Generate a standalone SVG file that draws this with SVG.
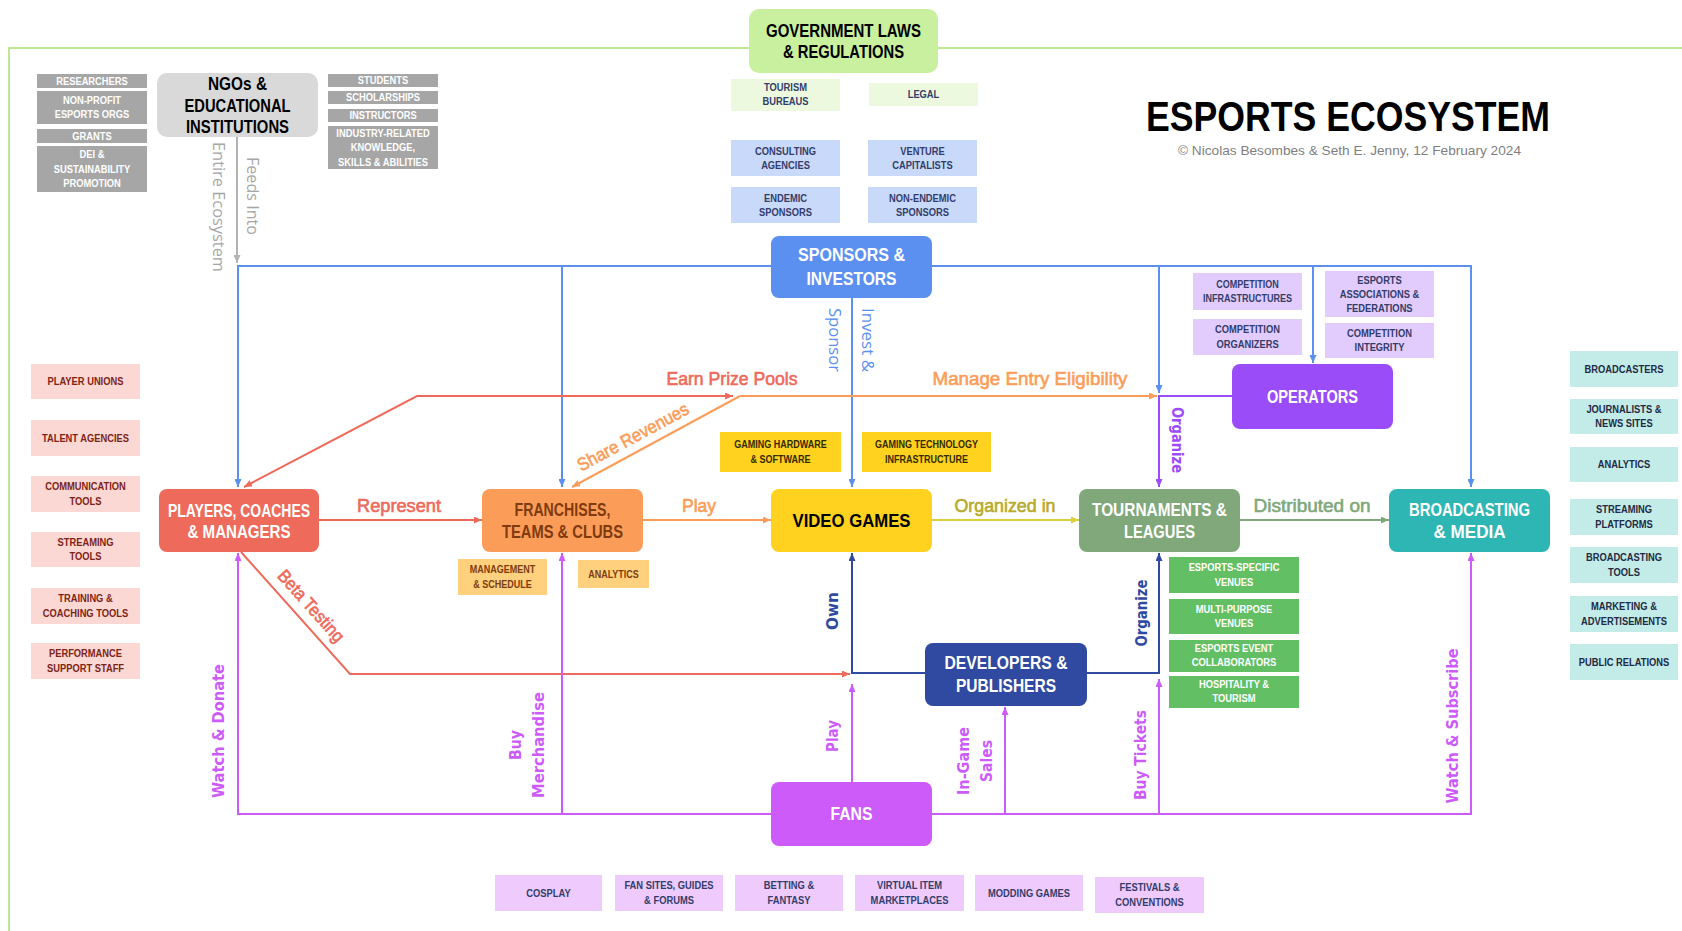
<svg xmlns="http://www.w3.org/2000/svg" width="1682" height="931" viewBox="0 0 1682 931">
<style>
.mt{font-family:'Liberation Sans',Arial,sans-serif;font-weight:bold;font-size:17.5px;text-anchor:middle}
.st{font-family:'Liberation Sans',Arial,sans-serif;font-weight:bold;font-size:11px;text-anchor:middle}
.lb{font-family:'Liberation Sans',Arial,sans-serif;font-size:18px;text-anchor:middle;stroke-width:0.6px;paint-order:stroke}
.vl{font-family:'Open Sans','DejaVu Sans',sans-serif;font-size:16px;text-anchor:middle}
.vb{font-family:'DejaVu Sans',sans-serif;font-size:15px;font-weight:bold;text-anchor:middle}
.ln{fill:none;stroke-width:2}
.navy{fill:#333d6b}
</style>
<defs>
<marker id="aBlue" viewBox="0 0 8 7" refX="8" refY="3.5" markerWidth="8" markerHeight="7" markerUnits="userSpaceOnUse" orient="auto-start-reverse"><path d="M0,0 L8,3.5 L0,7 z" fill="#5b8ff0"/></marker>
<marker id="aGray" viewBox="0 0 8 7" refX="8" refY="3.5" markerWidth="8" markerHeight="7" markerUnits="userSpaceOnUse" orient="auto-start-reverse"><path d="M0,0 L8,3.5 L0,7 z" fill="#b3b3b3"/></marker>
<marker id="aRed" viewBox="0 0 8 7" refX="8" refY="3.5" markerWidth="8" markerHeight="7" markerUnits="userSpaceOnUse" orient="auto-start-reverse"><path d="M0,0 L8,3.5 L0,7 z" fill="#ee6a5b"/></marker>
<marker id="aOrg" viewBox="0 0 8 7" refX="8" refY="3.5" markerWidth="8" markerHeight="7" markerUnits="userSpaceOnUse" orient="auto-start-reverse"><path d="M0,0 L8,3.5 L0,7 z" fill="#fb9d59"/></marker>
<marker id="aYel" viewBox="0 0 8 7" refX="8" refY="3.5" markerWidth="8" markerHeight="7" markerUnits="userSpaceOnUse" orient="auto-start-reverse"><path d="M0,0 L8,3.5 L0,7 z" fill="#dccf3a"/></marker>
<marker id="aGrn" viewBox="0 0 8 7" refX="8" refY="3.5" markerWidth="8" markerHeight="7" markerUnits="userSpaceOnUse" orient="auto-start-reverse"><path d="M0,0 L8,3.5 L0,7 z" fill="#80a87a"/></marker>
<marker id="aPur" viewBox="0 0 8 7" refX="8" refY="3.5" markerWidth="8" markerHeight="7" markerUnits="userSpaceOnUse" orient="auto-start-reverse"><path d="M0,0 L8,3.5 L0,7 z" fill="#cc5bfa"/></marker>
<marker id="aVio" viewBox="0 0 8 7" refX="8" refY="3.5" markerWidth="8" markerHeight="7" markerUnits="userSpaceOnUse" orient="auto-start-reverse"><path d="M0,0 L8,3.5 L0,7 z" fill="#9a4cf9"/></marker>
<marker id="aNav" viewBox="0 0 8 7" refX="8" refY="3.5" markerWidth="8" markerHeight="7" markerUnits="userSpaceOnUse" orient="auto-start-reverse"><path d="M0,0 L8,3.5 L0,7 z" fill="#2f4aa0"/></marker>
</defs>
<rect width="1682" height="931" fill="#ffffff"/>

<!-- frame -->
<path d="M9,931 L9,48 L1682,48" fill="none" stroke="#a9df73" stroke-width="1.5"/>

<!-- title -->
<g id="title">
<text x="1146" y="131" font-family="'Liberation Sans',Arial,sans-serif" font-weight="bold" font-size="42" textLength="404" lengthAdjust="spacingAndGlyphs" fill="#000">ESPORTS ECOSYSTEM</text>
<text x="1178" y="155" font-family="'Liberation Sans',Arial,sans-serif" font-size="13" textLength="343" lengthAdjust="spacingAndGlyphs" fill="#7f7f7f">© Nicolas Besombes &amp; Seth E. Jenny, 12 February 2024</text>
</g>

<!-- connectors -->
<g id="connectors">
<path class="ln" stroke="#b3b3b3" d="M237,137 L237,263" marker-end="url(#aGray)"/>
<path class="ln" stroke="#5b8ff0" d="M771,266 L238,266 L238,487" marker-end="url(#aBlue)"/>
<path class="ln" stroke="#5b8ff0" d="M562,266 L562,487" marker-end="url(#aBlue)"/>
<path class="ln" stroke="#5b8ff0" d="M932,266 L1471,266 L1471,487" marker-end="url(#aBlue)"/>
<path class="ln" stroke="#5b8ff0" d="M1159,266 L1159,393" marker-end="url(#aBlue)"/>
<path class="ln" stroke="#5b8ff0" d="M1313,266 L1313,363" marker-end="url(#aBlue)"/>
<path class="ln" stroke="#5b8ff0" d="M852,298 L852,487" marker-end="url(#aBlue)"/>
<path class="ln" stroke="#ee6a5b" d="M733,396 L417,396 L244,487" marker-start="url(#aRed)" marker-end="url(#aRed)"/>
<path class="ln" stroke="#fb9d59" d="M740,396 L1157,396" marker-end="url(#aOrg)"/>
<path class="ln" stroke="#fb9d59" d="M740,396 L572,487" marker-end="url(#aOrg)"/>
<path class="ln" stroke="#9a4cf9" d="M1232,396 L1159,396 L1159,487" marker-end="url(#aVio)"/>
<path class="ln" stroke="#ee6a5b" d="M319,520 L482,520" marker-end="url(#aRed)"/>
<path class="ln" stroke="#fb9d59" d="M643,520 L771,520" marker-end="url(#aOrg)"/>
<path class="ln" stroke="#dccf3a" d="M932,520 L1079,520" marker-end="url(#aYel)"/>
<path class="ln" stroke="#80a87a" d="M1240,520 L1389,520" marker-end="url(#aGrn)"/>
<path class="ln" stroke="#ee6a5b" d="M241,552 L350,674 L850,674" marker-end="url(#aRed)"/>
<path class="ln" stroke="#2f4aa0" d="M925,673 L852,673 L852,553" marker-end="url(#aNav)"/>
<path class="ln" stroke="#2f4aa0" d="M1087,673 L1159,673 L1159,553" marker-end="url(#aNav)"/>
<path class="ln" stroke="#cc5bfa" d="M771,814 L238,814 L238,553" marker-end="url(#aPur)"/>
<path class="ln" stroke="#cc5bfa" d="M562,814 L562,553" marker-end="url(#aPur)"/>
<path class="ln" stroke="#cc5bfa" d="M852,782 L852,684" marker-end="url(#aPur)"/>
<path class="ln" stroke="#cc5bfa" d="M932,814 L1471,814 L1471,553" marker-end="url(#aPur)"/>
<path class="ln" stroke="#cc5bfa" d="M1005,814 L1005,707" marker-end="url(#aPur)"/>
<path class="ln" stroke="#cc5bfa" d="M1159,814 L1159,679" marker-end="url(#aPur)"/>

<text class="vl" fill="#a6a6a6" transform="translate(218,207) rotate(90)" y="5" textLength="130" lengthAdjust="spacingAndGlyphs">Entire Ecosystem</text>
<text class="vl" fill="#a6a6a6" transform="translate(252,196) rotate(90)" y="5" textLength="78" lengthAdjust="spacingAndGlyphs">Feeds Into</text>
<text class="vl" fill="#5b8ff0" transform="translate(834,340) rotate(90)" y="5" textLength="64" lengthAdjust="spacingAndGlyphs">Sponsor</text>
<text class="vl" fill="#5b8ff0" transform="translate(867,340) rotate(90)" y="5" textLength="64" lengthAdjust="spacingAndGlyphs">Invest &amp;</text>
<text class="vb" fill="#9a4cf9" transform="translate(1177,440) rotate(90)" y="5" textLength="66" lengthAdjust="spacingAndGlyphs">Organize</text>
<text class="vb" fill="#2f4aa0" transform="translate(833,611) rotate(-90)" y="5" textLength="38" lengthAdjust="spacingAndGlyphs">Own</text>
<text class="vb" fill="#2f4aa0" transform="translate(1142,613) rotate(-90)" y="5" textLength="67" lengthAdjust="spacingAndGlyphs">Organize</text>
<text class="vb" fill="#cc5bfa" transform="translate(833,736) rotate(-90)" y="5" textLength="32" lengthAdjust="spacingAndGlyphs">Play</text>
<text class="vb" fill="#cc5bfa" transform="translate(219,731) rotate(-90)" y="5" textLength="134" lengthAdjust="spacingAndGlyphs">Watch &amp; Donate</text>
<text class="vb" fill="#cc5bfa" transform="translate(516,745) rotate(-90)" y="5" textLength="30" lengthAdjust="spacingAndGlyphs">Buy</text>
<text class="vb" fill="#cc5bfa" transform="translate(539,745) rotate(-90)" y="5" textLength="106" lengthAdjust="spacingAndGlyphs">Merchandise</text>
<text class="vb" fill="#cc5bfa" transform="translate(964,761) rotate(-90)" y="5" textLength="68" lengthAdjust="spacingAndGlyphs">In-Game</text>
<text class="vb" fill="#cc5bfa" transform="translate(987,761) rotate(-90)" y="5" textLength="42" lengthAdjust="spacingAndGlyphs">Sales</text>
<text class="vb" fill="#cc5bfa" transform="translate(1141,755) rotate(-90)" y="5" textLength="90" lengthAdjust="spacingAndGlyphs">Buy Tickets</text>
<text class="vb" fill="#cc5bfa" transform="translate(1453,726) rotate(-90)" y="5" textLength="155" lengthAdjust="spacingAndGlyphs">Watch &amp; Subscribe</text>

<text class="lb" fill="#ee6a5b" stroke="#ee6a5b" x="732" y="385" textLength="131" lengthAdjust="spacingAndGlyphs">Earn Prize Pools</text>
<text class="lb" fill="#fb9d59" stroke="#fb9d59" x="1030" y="385" textLength="195" lengthAdjust="spacingAndGlyphs">Manage Entry Eligibility</text>
<text class="lb" fill="#fb9d59" stroke="#fb9d59" transform="translate(633,437) rotate(-28.3)" y="6" textLength="124" lengthAdjust="spacingAndGlyphs">Share Revenues</text>
<text class="lb" fill="#ee6a5b" stroke="#ee6a5b" x="399" y="512" textLength="84" lengthAdjust="spacingAndGlyphs">Represent</text>
<text class="lb" fill="#fb9d59" stroke="#fb9d59" x="699" y="512" textLength="34" lengthAdjust="spacingAndGlyphs">Play</text>
<text class="lb" fill="#b8aa2c" stroke="#b8aa2c" x="1005" y="512" textLength="101" lengthAdjust="spacingAndGlyphs">Organized in</text>
<text class="lb" fill="#80a87a" stroke="#80a87a" x="1312" y="512" textLength="117" lengthAdjust="spacingAndGlyphs">Distributed on</text>
<text class="lb" fill="#ee6a5b" stroke="#ee6a5b" transform="translate(311,606) rotate(48.2)" y="6" textLength="90" lengthAdjust="spacingAndGlyphs">Beta Testing</text>
</g>

<!-- main nodes -->
<g id="gov">
<rect x="749" y="9" width="189" height="64" rx="10" fill="#c8f09e"/>
<text class="mt" fill="#000"><tspan x="843.5" y="37" textLength="155" lengthAdjust="spacingAndGlyphs">GOVERNMENT LAWS</tspan><tspan x="843.5" y="58" textLength="121" lengthAdjust="spacingAndGlyphs">&amp; REGULATIONS</tspan></text>
</g>
<g id="ngo">
<rect x="157" y="73" width="161" height="64" rx="10" fill="#d9d9d9"/>
<text class="mt" fill="#000"><tspan x="237.5" y="90" textLength="59" lengthAdjust="spacingAndGlyphs">NGOs &amp;</tspan><tspan x="237.5" y="112" textLength="106" lengthAdjust="spacingAndGlyphs">EDUCATIONAL</tspan><tspan x="237.5" y="133" textLength="103" lengthAdjust="spacingAndGlyphs">INSTITUTIONS</tspan></text>
</g>
<g id="sponsors">
<rect x="771" y="236" width="161" height="62" rx="8" fill="#5b8ff0"/>
<text class="mt" fill="#fff"><tspan x="851.5" y="261" textLength="107" lengthAdjust="spacingAndGlyphs">SPONSORS &amp;</tspan><tspan x="851.5" y="285" textLength="90" lengthAdjust="spacingAndGlyphs">INVESTORS</tspan></text>
</g>
<g id="players">
<rect x="159" y="489" width="160" height="63" rx="8" fill="#ee6a5b"/>
<text class="mt" fill="#fff"><tspan x="239" y="517" textLength="142" lengthAdjust="spacingAndGlyphs">PLAYERS, COACHES</tspan><tspan x="239" y="538" textLength="103" lengthAdjust="spacingAndGlyphs">&amp; MANAGERS</tspan></text>
</g>
<g id="franchises">
<rect x="482" y="489" width="161" height="63" rx="8" fill="#fb9d59"/>
<text class="mt" fill="#7f3a0f"><tspan x="562.5" y="516" textLength="96" lengthAdjust="spacingAndGlyphs">FRANCHISES,</tspan><tspan x="562.5" y="538" textLength="121" lengthAdjust="spacingAndGlyphs">TEAMS &amp; CLUBS</tspan></text>
</g>
<g id="videogames">
<rect x="771" y="489" width="161" height="63" rx="8" fill="#ffd21f"/>
<text class="mt" fill="#000" font-size="19" x="851.5" y="527" textLength="118" lengthAdjust="spacingAndGlyphs">VIDEO GAMES</text>
</g>
<g id="tournaments">
<rect x="1079" y="489" width="161" height="63" rx="8" fill="#80a87a"/>
<text class="mt" fill="#fff"><tspan x="1159.5" y="516" textLength="135" lengthAdjust="spacingAndGlyphs">TOURNAMENTS &amp;</tspan><tspan x="1159.5" y="538" textLength="71" lengthAdjust="spacingAndGlyphs">LEAGUES</tspan></text>
</g>
<g id="broadcasting">
<rect x="1389" y="489" width="161" height="63" rx="8" fill="#2db6b3"/>
<text class="mt" fill="#fff"><tspan x="1469.5" y="516" textLength="121" lengthAdjust="spacingAndGlyphs">BROADCASTING</tspan><tspan x="1469.5" y="538" textLength="72" lengthAdjust="spacingAndGlyphs">&amp; MEDIA</tspan></text>
</g>
<g id="operators">
<rect x="1232" y="364" width="161" height="65" rx="8" fill="#9a4cf9"/>
<text class="mt" fill="#fff" x="1312.5" y="403" textLength="91" lengthAdjust="spacingAndGlyphs">OPERATORS</text>
</g>
<g id="developers">
<rect x="925" y="643" width="162" height="63" rx="8" fill="#2f4aa0"/>
<text class="mt" fill="#fff"><tspan x="1006" y="669" textLength="123" lengthAdjust="spacingAndGlyphs">DEVELOPERS &amp;</tspan><tspan x="1006" y="692" textLength="100" lengthAdjust="spacingAndGlyphs">PUBLISHERS</tspan></text>
</g>
<g id="fans">
<rect x="771" y="782" width="161" height="64" rx="8" fill="#cc5bfa"/>
<text class="mt" fill="#fff" x="851.5" y="820" textLength="42" lengthAdjust="spacingAndGlyphs">FANS</text>
</g>

<g id="ngo-items" fill="#a6a6a6">
<rect x="37" y="74" width="110" height="14"/>
<rect x="37" y="91" width="110" height="33"/>
<rect x="37" y="129" width="110" height="14"/>
<rect x="37" y="146" width="110" height="46"/>
<rect x="328" y="74" width="110" height="13"/>
<rect x="328" y="91" width="110" height="13"/>
<rect x="328" y="109" width="110" height="13"/>
<rect x="328" y="126" width="110" height="43"/>
<g fill="#fff">
<text class="st" transform="translate(92,0) scale(0.85,1)"><tspan x="0" y="85">RESEARCHERS</tspan></text>
<text class="st" transform="translate(92,0) scale(0.85,1)"><tspan x="0" y="104">NON-PROFIT</tspan><tspan x="0" y="118.5">ESPORTS ORGS</tspan></text>
<text class="st" transform="translate(92,0) scale(0.85,1)"><tspan x="0" y="140">GRANTS</tspan></text>
<text class="st" transform="translate(92,0) scale(0.85,1)"><tspan x="0" y="158.5">DEI &amp;</tspan><tspan x="0" y="172.8">SUSTAINABILITY</tspan><tspan x="0" y="187">PROMOTION</tspan></text>
<text class="st" transform="translate(383,0) scale(0.85,1)"><tspan x="0" y="84.5">STUDENTS</tspan></text>
<text class="st" transform="translate(383,0) scale(0.85,1)"><tspan x="0" y="101.5">SCHOLARSHIPS</tspan></text>
<text class="st" transform="translate(383,0) scale(0.85,1)"><tspan x="0" y="119.5">INSTRUCTORS</tspan></text>
<text class="st" transform="translate(383,0) scale(0.85,1)"><tspan x="0" y="136.8">INDUSTRY-RELATED</tspan><tspan x="0" y="151.5">KNOWLEDGE,</tspan><tspan x="0" y="166">SKILLS &amp; ABILITIES</tspan></text>
</g>
</g>

<g id="gov-items">
<rect x="731" y="79" width="109" height="32" fill="#edf9df"/>
<rect x="869" y="83" width="109" height="23" fill="#edf9df"/>
<text class="st navy" transform="translate(785.5,0) scale(0.85,1)"><tspan x="0" y="91">TOURISM</tspan><tspan x="0" y="105">BUREAUS</tspan></text>
<text class="st navy" transform="translate(923.5,0) scale(0.85,1)"><tspan x="0" y="98.5">LEGAL</tspan></text>
</g>

<g id="sponsor-items" fill="#c9d9fa">
<rect x="731" y="140" width="109" height="36"/>
<rect x="868" y="140" width="109" height="36"/>
<rect x="731" y="187" width="109" height="36"/>
<rect x="868" y="187" width="109" height="36"/>
<text class="st navy" transform="translate(785.5,0) scale(0.85,1)"><tspan x="0" y="155">CONSULTING</tspan><tspan x="0" y="169.5">AGENCIES</tspan></text>
<text class="st navy" transform="translate(922.5,0) scale(0.85,1)"><tspan x="0" y="155">VENTURE</tspan><tspan x="0" y="169.5">CAPITALISTS</tspan></text>
<text class="st navy" transform="translate(785.5,0) scale(0.85,1)"><tspan x="0" y="202">ENDEMIC</tspan><tspan x="0" y="216.5">SPONSORS</tspan></text>
<text class="st navy" transform="translate(922.5,0) scale(0.85,1)"><tspan x="0" y="202">NON-ENDEMIC</tspan><tspan x="0" y="216.5">SPONSORS</tspan></text>
</g>

<g id="game-items" fill="#ffd21f">
<rect x="720" y="432" width="121" height="40"/>
<rect x="862" y="432" width="129" height="40"/>
<text class="st" fill="#332a00" transform="translate(780.5,0) scale(0.82,1)"><tspan x="0" y="448.5">GAMING HARDWARE</tspan><tspan x="0" y="463">&amp; SOFTWARE</tspan></text>
<text class="st" fill="#332a00" transform="translate(926.5,0) scale(0.82,1)"><tspan x="0" y="448.5">GAMING TECHNOLOGY</tspan><tspan x="0" y="463">INFRASTRUCTURE</tspan></text>
</g>

<g id="operator-items" fill="#e2cbfd">
<rect x="1193" y="273" width="109" height="37"/>
<rect x="1193" y="319" width="109" height="36"/>
<rect x="1325" y="271" width="109" height="46"/>
<rect x="1325" y="323" width="109" height="35"/>
<text class="st navy" transform="translate(1247.5,0) scale(0.82,1)"><tspan x="0" y="288">COMPETITION</tspan><tspan x="0" y="302.5">INFRASTRUCTURES</tspan></text>
<text class="st navy" transform="translate(1247.5,0) scale(0.85,1)"><tspan x="0" y="333.5">COMPETITION</tspan><tspan x="0" y="348">ORGANIZERS</tspan></text>
<text class="st navy" transform="translate(1379.5,0) scale(0.85,1)"><tspan x="0" y="283.8">ESPORTS</tspan><tspan x="0" y="298">ASSOCIATIONS &amp;</tspan><tspan x="0" y="312">FEDERATIONS</tspan></text>
<text class="st navy" transform="translate(1379.5,0) scale(0.85,1)"><tspan x="0" y="337">COMPETITION</tspan><tspan x="0" y="351.5">INTEGRITY</tspan></text>
</g>

<g id="franchise-items" fill="#ffd07e">
<rect x="458" y="559" width="89" height="36"/>
<rect x="578" y="560" width="71" height="28"/>
<text class="st" fill="#7b3d0f" transform="translate(502.5,0) scale(0.82,1)"><tspan x="0" y="573.5">MANAGEMENT</tspan><tspan x="0" y="588">&amp; SCHEDULE</tspan></text>
<text class="st" fill="#7b3d0f" transform="translate(613.5,0) scale(0.82,1)"><tspan x="0" y="578">ANALYTICS</tspan></text>
</g>

<g id="venue-items" fill="#62bf63">
<rect x="1169" y="557" width="130" height="36"/>
<rect x="1169" y="599" width="130" height="35"/>
<rect x="1169" y="640" width="130" height="32"/>
<rect x="1169" y="676" width="130" height="32"/>
<g fill="#fff">
<text class="st" transform="translate(1234,0) scale(0.85,1)"><tspan x="0" y="571.5">ESPORTS-SPECIFIC</tspan><tspan x="0" y="586">VENUES</tspan></text>
<text class="st" transform="translate(1234,0) scale(0.85,1)"><tspan x="0" y="613">MULTI-PURPOSE</tspan><tspan x="0" y="627.5">VENUES</tspan></text>
<text class="st" transform="translate(1234,0) scale(0.85,1)"><tspan x="0" y="652">ESPORTS EVENT</tspan><tspan x="0" y="666.5">COLLABORATORS</tspan></text>
<text class="st" transform="translate(1234,0) scale(0.85,1)"><tspan x="0" y="688">HOSPITALITY &amp;</tspan><tspan x="0" y="702.5">TOURISM</tspan></text>
</g>
</g>

<g id="player-items" fill="#fbd8d3">
<rect x="31" y="364" width="109" height="35"/>
<rect x="31" y="420" width="109" height="36"/>
<rect x="31" y="476" width="109" height="36"/>
<rect x="31" y="532" width="109" height="35"/>
<rect x="31" y="588" width="109" height="36"/>
<rect x="31" y="643" width="109" height="36"/>
<g fill="#7d2418">
<text class="st" transform="translate(85.5,0) scale(0.85,1)"><tspan x="0" y="385.5">PLAYER UNIONS</tspan></text>
<text class="st" transform="translate(85.5,0) scale(0.85,1)"><tspan x="0" y="442">TALENT AGENCIES</tspan></text>
<text class="st" transform="translate(85.5,0) scale(0.85,1)"><tspan x="0" y="490.5">COMMUNICATION</tspan><tspan x="0" y="505">TOOLS</tspan></text>
<text class="st" transform="translate(85.5,0) scale(0.85,1)"><tspan x="0" y="546">STREAMING</tspan><tspan x="0" y="560.5">TOOLS</tspan></text>
<text class="st" transform="translate(85.5,0) scale(0.85,1)"><tspan x="0" y="602.5">TRAINING &amp;</tspan><tspan x="0" y="617">COACHING TOOLS</tspan></text>
<text class="st" transform="translate(85.5,0) scale(0.85,1)"><tspan x="0" y="657.5">PERFORMANCE</tspan><tspan x="0" y="672">SUPPORT STAFF</tspan></text>
</g>
</g>

<g id="media-items" fill="#c3ebe8">
<rect x="1570" y="351" width="108" height="36"/>
<rect x="1570" y="399" width="108" height="35"/>
<rect x="1570" y="447" width="108" height="35"/>
<rect x="1570" y="499" width="108" height="36"/>
<rect x="1570" y="547" width="108" height="36"/>
<rect x="1570" y="596" width="108" height="36"/>
<rect x="1570" y="644" width="108" height="36"/>
<g fill="#1f2a44">
<text class="st" transform="translate(1624,0) scale(0.85,1)"><tspan x="0" y="373">BROADCASTERS</tspan></text>
<text class="st" transform="translate(1624,0) scale(0.85,1)"><tspan x="0" y="413">JOURNALISTS &amp;</tspan><tspan x="0" y="427.5">NEWS SITES</tspan></text>
<text class="st" transform="translate(1624,0) scale(0.85,1)"><tspan x="0" y="468.5">ANALYTICS</tspan></text>
<text class="st" transform="translate(1624,0) scale(0.85,1)"><tspan x="0" y="513.5">STREAMING</tspan><tspan x="0" y="528">PLATFORMS</tspan></text>
<text class="st" transform="translate(1624,0) scale(0.85,1)"><tspan x="0" y="561.5">BROADCASTING</tspan><tspan x="0" y="576">TOOLS</tspan></text>
<text class="st" transform="translate(1624,0) scale(0.85,1)"><tspan x="0" y="610.5">MARKETING &amp;</tspan><tspan x="0" y="625">ADVERTISEMENTS</tspan></text>
<text class="st" transform="translate(1624,0) scale(0.85,1)"><tspan x="0" y="666">PUBLIC RELATIONS</tspan></text>
</g>
</g>

<g id="fan-items" fill="#eecbfc">
<rect x="495" y="875" width="107" height="36"/>
<rect x="615" y="875" width="108" height="36"/>
<rect x="735" y="875" width="108" height="36"/>
<rect x="855" y="875" width="109" height="36"/>
<rect x="975" y="875" width="108" height="36"/>
<rect x="1095" y="877" width="109" height="36"/>
<text class="st navy" transform="translate(548.5,0) scale(0.85,1)"><tspan x="0" y="897">COSPLAY</tspan></text>
<text class="st navy" transform="translate(669,0) scale(0.85,1)"><tspan x="0" y="889.5">FAN SITES,  GUIDES</tspan><tspan x="0" y="904">&amp; FORUMS</tspan></text>
<text class="st navy" transform="translate(789,0) scale(0.85,1)"><tspan x="0" y="889.5">BETTING &amp;</tspan><tspan x="0" y="904">FANTASY</tspan></text>
<text class="st navy" transform="translate(909.5,0) scale(0.85,1)"><tspan x="0" y="889.5">VIRTUAL ITEM</tspan><tspan x="0" y="904">MARKETPLACES</tspan></text>
<text class="st navy" transform="translate(1029,0) scale(0.85,1)"><tspan x="0" y="897">MODDING GAMES</tspan></text>
<text class="st navy" transform="translate(1149.5,0) scale(0.85,1)"><tspan x="0" y="891.5">FESTIVALS &amp;</tspan><tspan x="0" y="906">CONVENTIONS</tspan></text>
</g>
</svg>
